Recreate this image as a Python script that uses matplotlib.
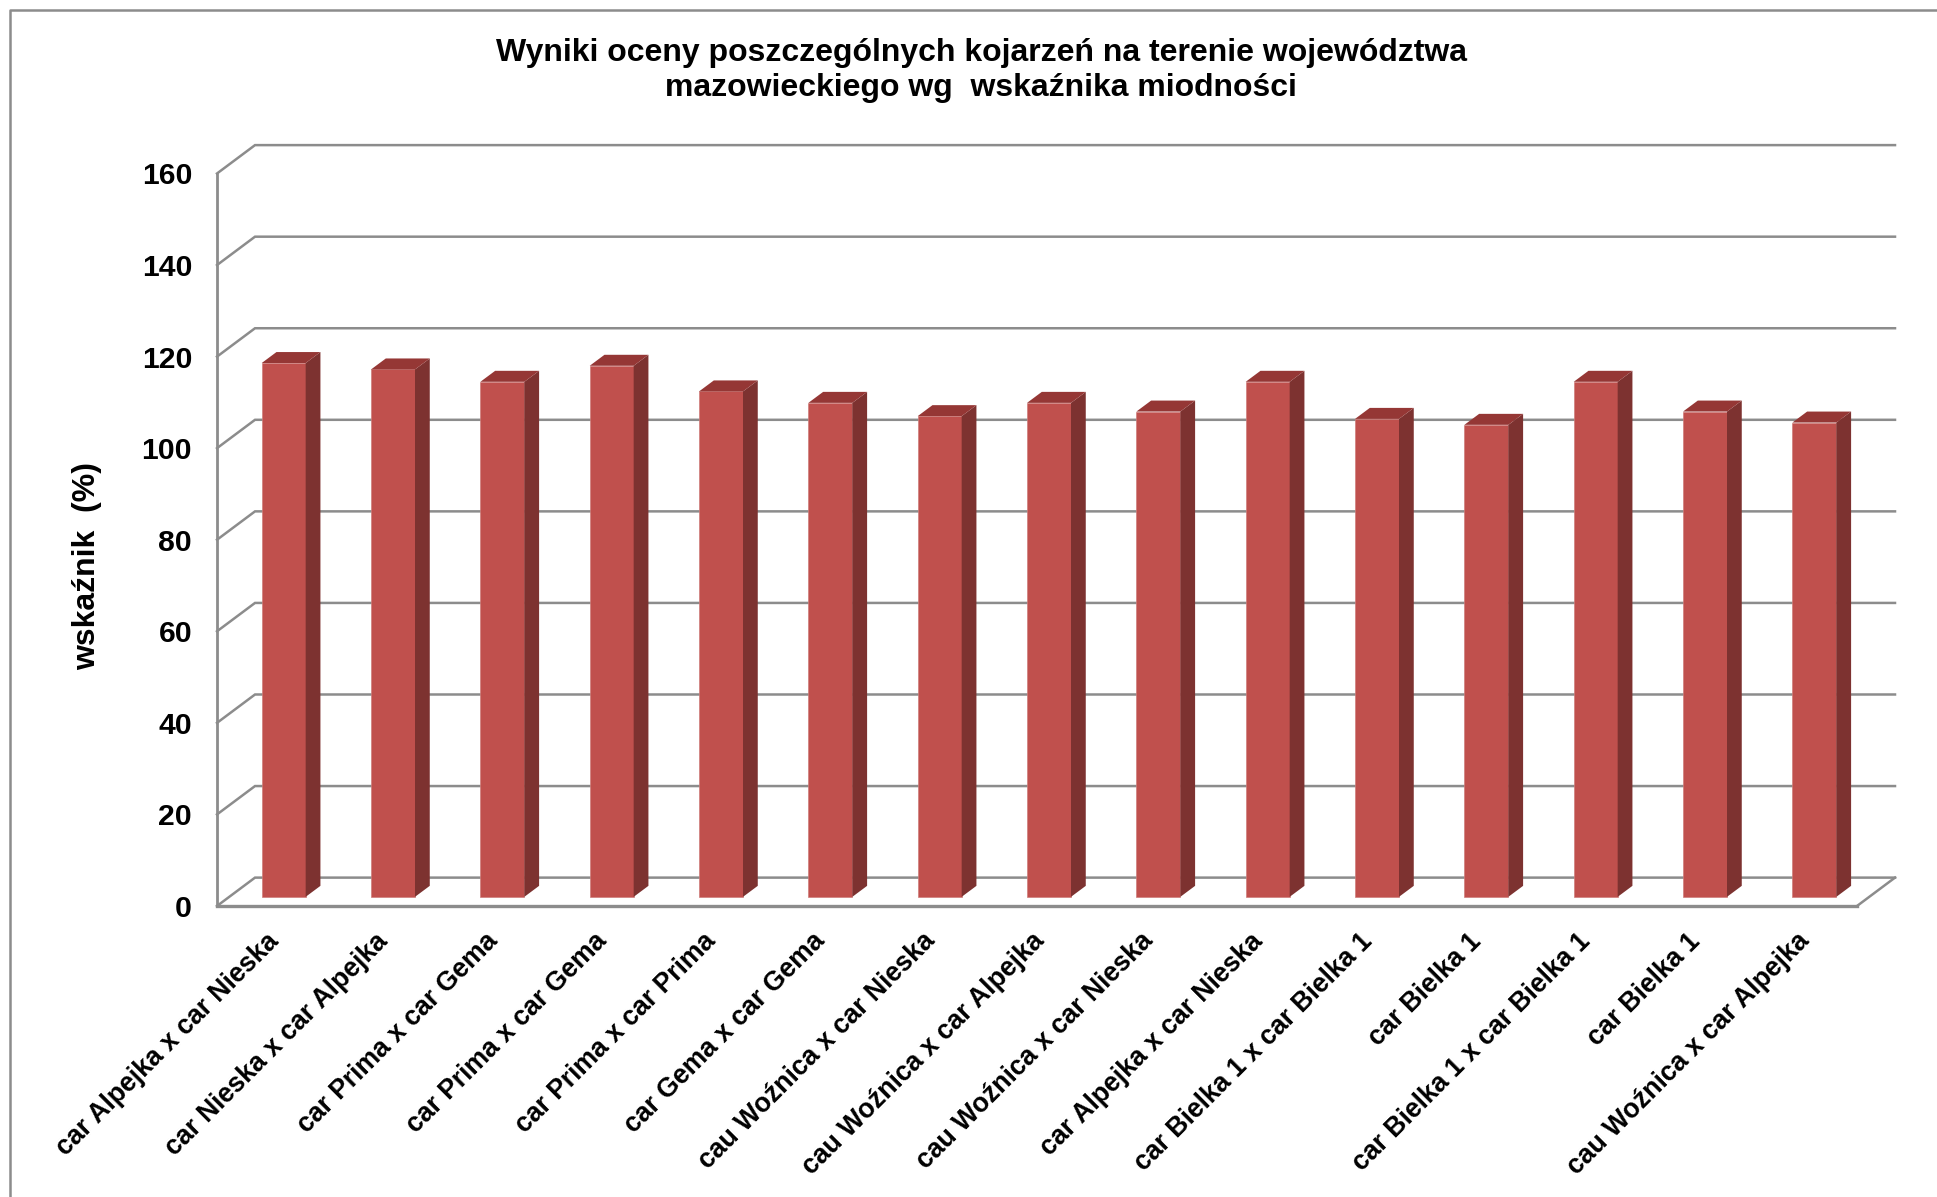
#!/usr/bin/env python
import matplotlib
matplotlib.use("Agg")
import matplotlib.pyplot as plt
from matplotlib.lines import Line2D
from matplotlib.patches import Polygon

plt.rcParams['font.family'] = ['Liberation Sans', 'DejaVu Sans']

labels = ["car Alpejka x car Nieska", "car Nieska x car Alpejka", "car Prima x car Gema",
          "car Prima x car Gema", "car Prima x car Prima", "car Gema x car Gema",
          "cau Woźnica x car Nieska", "cau Woźnica x car Alpejka", "cau Woźnica x car Nieska",
          "car Alpejka x car Nieska", "car Bielka 1 x car Bielka 1", "car Bielka 1",
          "car Bielka 1 x car Bielka 1", "car Bielka 1", "cau Woźnica x car Alpejka"]
values = [116.6, 115.2, 112.5, 116.0, 110.4, 107.9, 105.0, 107.9, 106.0, 112.5,
          104.4, 103.1, 112.5, 106.0, 103.6]
yticks = [0, 20, 40, 60, 80, 100, 120, 140, 160]

W, H = 1937, 1197
GRAY = '#8c8c8c'
FRONT = '#c0504d'
SIDE = '#7d3230'
TOP = '#953735'

fig = plt.figure(figsize=(W / 100, H / 100), dpi=100)
ax = fig.add_axes([217 / W, 1 - 906 / H, 1640 / W, 732.5 / H])
ax.set_xlim(0, 15)
ax.set_ylim(0, 160)
for s in ax.spines.values():
    s.set_visible(False)
ax.patch.set_visible(False)

# depth of the 3d box and of the bars, in data units
wall_dx, wall_dy = 0.3476, 6.2
bar_dx, bar_dy = 0.135, 2.4
shift_x, shift_y = 0.11, 2.0
bar_w = 0.402

# walls
for t in yticks:
    ax.plot([0, wall_dx, 15 + wall_dx], [t, t + wall_dy, t + wall_dy], color=GRAY, lw=1.8,
            clip_on=False, zorder=1, solid_joinstyle='miter')
ax.plot([15, 15 + wall_dx], [0, wall_dy], color=GRAY, lw=1.8, clip_on=False, zorder=1)
ax.plot([0, 0], [0, 160], color=GRAY, lw=2.0, clip_on=False, zorder=2)
ax.plot([0, 15], [0, 0], color=GRAY, lw=2.4, clip_on=False, zorder=2)

# bars
xs = [i + 0.5 + shift_x for i in range(len(values))]
ax.bar(xs, values, width=bar_w, bottom=shift_y, color=FRONT, edgecolor='#cf7d7a', linewidth=0.5,
       zorder=3, clip_on=False)
for x, v in zip(xs, values):
    r = x + bar_w / 2
    l = x - bar_w / 2
    top = v + shift_y
    ax.add_patch(Polygon([(r, shift_y), (r + bar_dx, shift_y + bar_dy), (r + bar_dx, top + bar_dy), (r, top)],
                         closed=True, facecolor=SIDE, edgecolor='none', zorder=3, clip_on=False))
    ax.add_patch(Polygon([(l, top), (l + bar_dx, top + bar_dy), (r + bar_dx, top + bar_dy), (r, top)],
                         closed=True, facecolor=TOP, edgecolor='none', zorder=3, clip_on=False))

ax.set_yticks(yticks)
ax.set_yticklabels([str(t) for t in yticks], fontsize=21.7, fontweight='bold')
ax.tick_params(axis='y', length=0, pad=18)
ax.set_xticks([i + 0.445 for i in range(len(labels))])
ax.set_xticklabels(labels, rotation=45, ha='right', rotation_mode='anchor',
                   fontsize=19.2, fontweight='bold')
ax.tick_params(axis='x', length=0, pad=16)

fig.text(981 / W, 1 - 70.5 / H, "Wyniki oceny poszczególnych kojarzeń na terenie województwa\nmazowieckiego wg  wskaźnika miodności",
         ha='center', va='center', fontsize=23, fontweight='bold', linespacing=1.26)
fig.text(87 / W, 1 - 566 / H, "wskaźnik  (%)", rotation=90, ha='center', va='center',
         fontsize=23, fontweight='bold')

# chart area frame
fig.add_artist(Line2D([10 / W, 10 / W, 1], [0, 1 - 10 / H, 1 - 10 / H], color=GRAY, lw=1.8))

fig.savefig('out.png', dpi=100)
